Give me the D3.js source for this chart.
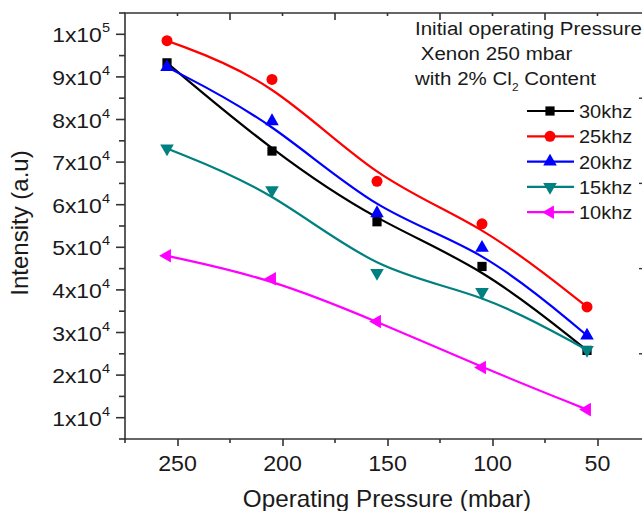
<!DOCTYPE html>
<html><head><meta charset="utf-8">
<script src="https://cdn.jsdelivr.net/npm/d3@7"></script>
<style>
html,body{margin:0;padding:0;background:#fff;}
svg{display:block;font-family:"Liberation Sans",Arial,sans-serif;}
</style></head>
<body>
<svg id="chart" width="642" height="511"></svg>
<script>
// ---- data ----
const pressures = [255, 205, 155, 105, 55];
const series30 = [93300, 72600, 56000, 45500, 25800];
const series25 = [98500, 89400, 65500, 55500, 36000];
const series20 = [92300, 79600, 58000, 49900, 29300];
const series15 = [73200, 63400, 44000, 39500, 25900];
const series10 = [48000, 42600, 32600, 21800, 11900];
const seriesNames = ["30khz", "25khz", "20khz", "15khz", "10khz"];
const xTickValues = [250, 200, 150, 100, 50];
const yTickMantissas = [1, 9, 8, 7, 6, 5, 4, 3, 2, 1];
const yTickExponents = [5, 4, 4, 4, 4, 4, 4, 4, 4, 4];
const annotationLines = ["Initial operating Pressure", " Xenon 250 mbar", "with 2% Cl"];

const seriesValues = [series30, series25, series20, series15, series10];
const colors = ["#000000", "#ff0000", "#0000ff", "#008080", "#ff00ff"];
const symbols = [d3.symbolSquare, d3.symbolCircle, d3.symbolTriangle, d3.symbolTriangle, d3.symbolTriangle];
const symSizes = [85, 95, 80, 80, 80];
const symRot = [0, 0, 0, 180, -90];

const svg = d3.select("#chart");
const L = 125, R = 650, T = 13, B = 439;
const x = d3.scaleLinear().domain([275, 25]).range([L, R]);
const y = d3.scaleLinear().domain([5000, 105000]).range([B, T]);
const axisColor = "#333";
const textColor = "#1a1a1a";

// text helper with slight horizontal stretch (reference glyphs are wider)
function stext(parent, px, py, size, sx, anchor) {
  return parent.append("g").attr("transform", `translate(${px},${py}) scale(${sx},1)`)
    .append("text").attr("x", 0).attr("y", 0).attr("font-size", size)
    .attr("text-anchor", anchor || "start").attr("fill", textColor);
}

// ---- curves ----
const line = d3.line().x(d => x(d[0])).y(d => y(d[1])).curve(d3.curveBasis);
seriesValues.forEach((vals, i) => {
  const pts = pressures.map((p, j) => [p, vals[j]]);
  svg.append("path").attr("d", line(pts)).attr("fill", "none")
    .attr("stroke", colors[i]).attr("stroke-width", 2.2);
});
seriesValues.forEach((vals, i) => {
  const sym = d3.symbol().type(symbols[i]).size(symSizes[i]);
  svg.append("g").selectAll("path").data(pressures.map((p, j) => [p, vals[j]])).join("path")
    .attr("d", sym)
    .attr("transform", d => `translate(${x(d[0])},${y(d[1])}) rotate(${symRot[i]})`)
    .attr("fill", colors[i]);
});

// ---- axes ----
const frame = svg.append("g").attr("stroke", axisColor).attr("stroke-width", 1.6).attr("fill", "none");
frame.append("line").attr("x1", L).attr("x2", L).attr("y1", T).attr("y2", B + 1);
frame.append("line").attr("x1", L - 1).attr("x2", R).attr("y1", B).attr("y2", B);
frame.append("line").attr("x1", L - 1).attr("x2", R).attr("y1", T).attr("y2", T);
frame.append("line").attr("x1", R).attr("x2", R).attr("y1", T).attr("y2", B);

// bottom axis
const xMinor = d3.range(275, 24, -25);
const xAxis = d3.axisBottom(x).tickValues(xTickValues).tickSize(7).tickFormat(() => "");
const gx = svg.append("g").attr("transform", `translate(0,${B})`).call(xAxis);
gx.select(".domain").remove();
gx.selectAll(".tick text").remove();
gx.selectAll(".tick line").attr("stroke", axisColor).attr("stroke-width", 1.6);
xTickValues.forEach(v => {
  stext(svg, x(v), B + 32, 21.5, 1.08, "middle").text(d3.format("d")(v));
});
svg.append("g").selectAll("line").data(xMinor.filter(v => v % 50 !== 0)).join("line")
  .attr("x1", d => x(d)).attr("x2", d => x(d)).attr("y1", B).attr("y2", B + 4)
  .attr("stroke", axisColor).attr("stroke-width", 1.6);
// top axis (inward ticks)
svg.append("g").selectAll("line").data(xMinor.filter(v => v < 275 && v > 25)).join("line")
  .attr("x1", d => x(d)).attr("x2", d => x(d)).attr("y1", T).attr("y2", d => T + (d % 50 === 0 ? 3 : 7))
  .attr("stroke", axisColor).attr("stroke-width", 1.6);

// left axis
const yMajor = yTickMantissas.map((m, i) => m * Math.pow(10, yTickExponents[i]));
const yMinor = d3.range(5000, 105001, 10000);
const gy = svg.append("g");
gy.selectAll("line.maj").data(yMajor).join("line")
  .attr("x1", L - 9).attr("x2", L).attr("y1", d => y(d)).attr("y2", d => y(d))
  .attr("stroke", axisColor).attr("stroke-width", 1.6);
gy.selectAll("line.min").data(yMinor).join("line")
  .attr("x1", L - 6).attr("x2", L).attr("y1", d => y(d)).attr("y2", d => y(d))
  .attr("stroke", axisColor).attr("stroke-width", 1.6);
yMajor.forEach((v, i) => {
  const t = stext(gy, 110, y(v) + 8, 20.5, 1.12, "end");
  t.append("tspan").text(yTickMantissas[i] + "x10");
  t.append("tspan").attr("font-size", 13).attr("dy", -10).text(yTickExponents[i]);
});

// right axis (inward ticks visible)
svg.append("g").selectAll("line").data([25000, 45000, 65000, 85000]).join("line")
  .attr("x1", 639).attr("x2", R).attr("y1", d => y(d)).attr("y2", d => y(d))
  .attr("stroke", axisColor).attr("stroke-width", 1.4);

// titles
stext(svg, 387, 507, 23, 1.055, "middle").text("Operating Pressure (mbar)");
svg.append("text").attr("transform", "translate(28,223) rotate(-90)").attr("text-anchor", "middle")
  .attr("font-size", 24).attr("fill", textColor).text("Intensity (a.u)");

// annotation
const ann = svg.append("g");
stext(ann, 415, 35, 19, 1.08).text(annotationLines[0]);
stext(ann, 415, 60, 19, 1.08).style("white-space", "pre").text(annotationLines[1]);
const t3 = stext(ann, 415, 85, 19, 1.08);
t3.append("tspan").text(annotationLines[2]);
t3.append("tspan").attr("font-size", 11).attr("dy", 6).text("2");
t3.append("tspan").attr("dy", -6).text(" Content");

// legend
const lg = svg.append("g");
seriesNames.forEach((name, i) => {
  const cy = 111 + i * 25.3;
  lg.append("line").attr("x1", 527).attr("x2", 574).attr("y1", cy).attr("y2", cy)
    .attr("stroke", colors[i]).attr("stroke-width", 2.2);
  lg.append("path").attr("d", d3.symbol().type(symbols[i]).size(symSizes[i])())
    .attr("transform", `translate(550,${cy}) rotate(${symRot[i]})`).attr("fill", colors[i]);
  stext(lg, 579, cy + 7, 18.5, 1.08).text(name);
});
</script>
</body></html>
